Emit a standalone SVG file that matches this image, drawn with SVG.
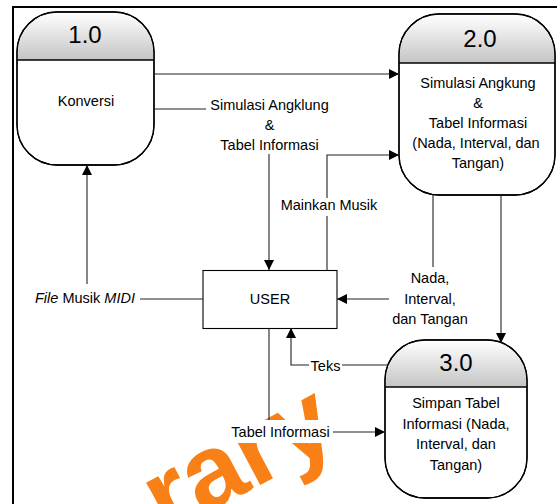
<svg xmlns="http://www.w3.org/2000/svg" width="557" height="504" viewBox="0 0 557 504">
<style>
text{font-family:"Liberation Sans",Arial,sans-serif;fill:#000}
.t{font-size:14.5px;text-anchor:middle}
.n{font-size:24px;text-anchor:middle}
.box{fill:#fff;stroke:#000;stroke-width:1.3}
.hd{fill:url(#g);stroke:none}
.ln{stroke:#000;stroke-width:1.3;fill:none}
.c{fill:none;stroke:#222;stroke-width:1.1}
.a{marker-end:url(#ar)}
</style>
<defs>
<linearGradient id="g" x1="0" y1="0" x2="0" y2="1">
<stop offset="0" stop-color="#ffffff"/>
<stop offset="1" stop-color="#c4c4c4"/>
</linearGradient>
<marker id="ar" markerUnits="userSpaceOnUse" markerWidth="10" markerHeight="10" refX="10" refY="5" orient="auto">
<path d="M0,0 L10,5 L0,10 Z" fill="#000"/>
</marker>
</defs>
<rect x="0" y="0" width="557" height="504" fill="#fff"/>
<text x="166" y="535" transform="rotate(-28 166 535)" style="font-size:105px;font-weight:bold;fill:#f98016">rary</text>
<path d="M13,504 V7 H557" fill="none" stroke="#000" stroke-width="2"/>

<g id="node-1">
<rect class="box" x="17" y="12" width="137" height="153" rx="40" ry="40"/>
<path class="hd" d="M17.7,60 V52 A40,40 0 0 1 57,12.7 H114 A40,40 0 0 1 153.3,52 V60 Z"/>
<rect x="17" y="12" width="137" height="153" rx="40" ry="40" fill="none" stroke="#000" stroke-width="1.3"/>
<path class="ln" d="M17,60 H154"/>
<text class="n" x="85" y="43">1.0</text>
<text class="t" x="86" y="106">Konversi</text>
</g>

<g id="node-2">
<rect class="box" x="399" y="14" width="156" height="181" rx="40" ry="40"/>
<path class="hd" d="M399.7,63 V54 A40,40 0 0 1 439,14.7 H515 A40,40 0 0 1 554.3,54 V63 Z"/>
<rect x="399" y="14" width="156" height="181" rx="40" ry="40" fill="none" stroke="#000" stroke-width="1.3"/>
<path class="ln" d="M399,63 H555"/>
<text class="n" x="480" y="47">2.0</text>
<text class="t" x="478" y="88">Simulasi Angkung</text>
<text class="t" x="478" y="108">&amp;</text>
<text class="t" x="478" y="128">Tabel Informasi</text>
<text class="t" x="476" y="148">(Nada, Interval, dan</text>
<text class="t" x="478" y="168">Tangan)</text>
</g>

<g id="node-3">
<rect class="box" x="385" y="340" width="142" height="158" rx="40" ry="40"/>
<path class="hd" d="M385.7,387 V380 A40,40 0 0 1 425,340.7 H487 A40,40 0 0 1 526.3,380 V387 Z"/>
<rect x="385" y="340" width="142" height="158" rx="40" ry="40" fill="none" stroke="#000" stroke-width="1.3"/>
<path class="ln" d="M385,387 H527"/>
<text class="n" x="456" y="371">3.0</text>
<text class="t" x="456" y="408">Simpan Tabel</text>
<text class="t" x="456" y="429">Informasi (Nada,</text>
<text class="t" x="456" y="449">Interval, dan</text>
<text class="t" x="456" y="470">Tangan)</text>
</g>

<g id="user">
<rect x="203" y="270.5" width="134" height="58" fill="#fff" stroke="#000" stroke-width="1.1"/>
<text class="t" x="270" y="304">USER</text>
</g>

<g id="connectors">
<path class="c a" d="M154,74 H399"/>
<path class="c" d="M154,109 H206"/>
<path class="c a" d="M269,154 V270"/>
<path class="c" d="M327,270 V216"/>
<path class="c a" d="M327,198 V155 H399"/>
<path class="c" d="M433,195 V267"/>
<path class="c a" d="M389,299 H337"/>
<path class="c a" d="M501,195 V343"/>
<path class="c" d="M388,365 H342"/>
<path class="c a" d="M309,365 H291 V328"/>
<path class="c" d="M269,328 V422"/>
<path class="c a" d="M333,432 H385"/>
<path class="c" d="M203,299 H140"/>
<path class="c a" d="M87,284 V165"/>

<text class="t" x="269.5" y="109.5">Simulasi Angklung</text>
<text class="t" x="269.5" y="130">&amp;</text>
<text class="t" x="269.5" y="150">Tabel Informasi</text>
<text class="t" x="329" y="210">Mainkan Musik</text>
<text class="t" x="430" y="283">Nada,</text>
<text class="t" x="430" y="304">Interval,</text>
<text class="t" x="430" y="324">dan Tangan</text>
<text x="325.5" y="371" class="t">Teks</text>
<rect x="228" y="420" width="105" height="23" fill="#fff"/>
<text class="t" x="280.5" y="437">Tabel Informasi</text>
<text x="35" y="303" style="font-size:14.5px"><tspan font-style="italic">File</tspan> Musik <tspan font-style="italic">MIDI</tspan></text>
</g>
</svg>
